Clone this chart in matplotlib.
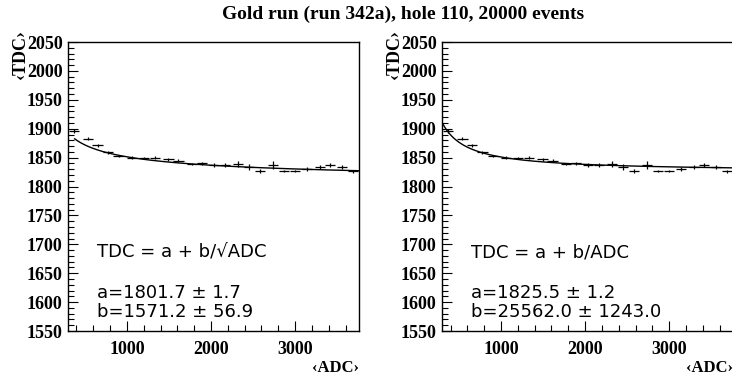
#!/usr/bin/env python3
# -*- coding: utf-8 -*-
"""Mean TDC vs mean ADC, gold run 342a, hole 110, with two fit forms."""

import numpy as np
from matplotlib import pyplot as plt
from matplotlib.ticker import MultipleLocator

# ------------------------------------------------------------------------------
#  Data
# ------------------------------------------------------------------------------

adc = [371, 542, 650, 780, 900, 1058, 1200, 1336, 1494, 1613, 1772, 1892,
       2030, 2169, 2316, 2447, 2586, 2737, 2863, 3002, 3141, 3292, 3419,
       3558, 3689]
tdc = [1896, 1883, 1871, 1859, 1853, 1850, 1849, 1850, 1847, 1845, 1839,
       1840, 1837, 1837, 1839, 1834, 1827, 1838, 1827, 1827, 1830, 1834,
       1837, 1834, 1826]
tdc_err = [3, 2, 2, 2, 2, 2, 2, 2, 2, 2, 2, 3, 3, 3, 5, 5, 3, 7, 2, 2, 3,
           4, 4, 3, 2]
adc_err = [55, 60, 60, 60, 60, 60, 60, 60, 60, 60, 60, 60, 60, 60, 60, 60,
           60, 60, 60, 60, 60, 60, 60, 60, 60]

# fit results (a, b) shown on each panel
fit_sqrt = (1801.7, 1571.2)
fit_sqrt_err = (1.7, 56.9)
fit_inv = (1825.5, 25562.0)
fit_inv_err = (1.2, 1243.0)

TITLE = "Gold run (run 342a), hole 110, 20000 events"
XLIM = (300, 3760)
YLIM = (1550, 2050)

serif = "Liberation Serif"
sans = "DejaVu Sans"

# ------------------------------------------------------------------------------
#  Plot
# ------------------------------------------------------------------------------

fig = plt.figure(figsize=(7.32, 3.79), dpi=100)
ax_l = fig.add_axes([0.093, 0.1266, 0.3975, 0.7625])
ax_r = fig.add_axes([0.604, 0.1266, 0.3975, 0.7625])

fig.text(0.551, 0.962, TITLE, ha="center", va="center",
         family=serif, weight="bold", fontsize=14)

x_fit = np.linspace(XLIM[0], XLIM[1], 400)
curves = [
    (ax_l, fit_sqrt[0] + fit_sqrt[1] / np.sqrt(x_fit),
     "TDC = a + b/\u221aADC", fit_sqrt, fit_sqrt_err),
    (ax_r, fit_inv[0] + fit_inv[1] / x_fit,
     "TDC = a + b/ADC", fit_inv, fit_inv_err),
]

for ax, y_fit, formula, pars, errs in curves:
    ax.errorbar(adc, tdc, xerr=adc_err, yerr=tdc_err, fmt="none",
                ecolor="black", elinewidth=0.9, capsize=0)
    if ax is ax_l:
        ax.plot(x_fit[x_fit >= 371], y_fit[x_fit >= 371], color="black", lw=1)
    else:
        ax.plot(x_fit, y_fit, color="black", lw=1)

    ax.set_xlim(*XLIM)
    ax.set_ylim(*YLIM)
    ax.xaxis.set_major_locator(MultipleLocator(1000))
    ax.xaxis.set_minor_locator(MultipleLocator(200))
    ax.yaxis.set_major_locator(MultipleLocator(50))
    ax.yaxis.set_minor_locator(MultipleLocator(10))
    ax.tick_params(which="both", direction="in", top=False, right=False,
                   width=0.8)
    ax.tick_params(which="major", length=7)
    ax.tick_params(which="minor", length=4)
    ax.tick_params(axis="x", pad=7)
    ax.tick_params(axis="y", pad=4)
    for lbl in ax.get_xticklabels() + ax.get_yticklabels():
        lbl.set_family(serif)
        lbl.set_weight("bold")
        lbl.set_fontsize(13)
    for sp in ax.spines.values():
        sp.set_linewidth(1.0)

    ax.text(645, 1685, formula, family=sans, fontsize=13, va="center")
    ax.text(645, 1616, f"a={pars[0]:.1f} \u00b1 {errs[0]:.1f}",
            family=sans, fontsize=13, va="center")
    ax.text(645, 1583, f"b={pars[1]:.1f} \u00b1 {errs[1]:.1f}",
            family=sans, fontsize=13, va="center")

    ax.text(-0.165, 0.96, "\u2039TDC\u203a", transform=ax.transAxes,
            rotation=90, ha="center", va="center", family=serif,
            weight="bold", fontsize=13)
    ax.text(1.0, -0.128, "\u2039ADC\u203a", transform=ax.transAxes,
            ha="right", va="center", family=serif, weight="bold", fontsize=12)

fig.savefig("out.png", dpi=100)
